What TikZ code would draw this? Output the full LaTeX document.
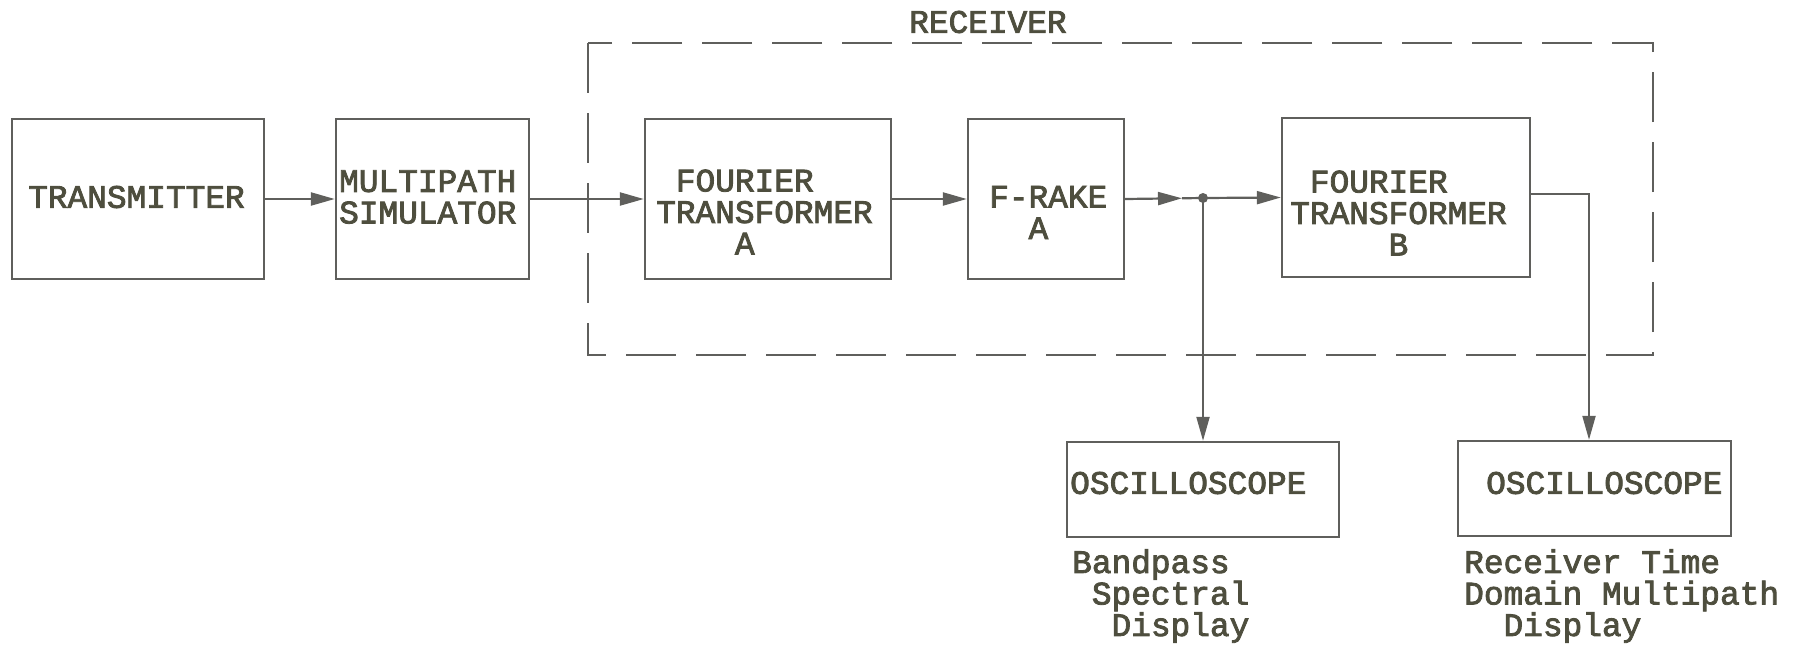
\documentclass[tikz,border=0pt]{standalone}
\usepackage{fontspec}
\newfontfamily\tw[FakeBold=2.5]{Liberation Mono}
\usetikzlibrary{arrows.meta}
\definecolor{ln}{RGB}{95,95,92}
\definecolor{tx}{RGB}{78,78,62}
\begin{document}
\begin{tikzpicture}[x=1pt,y=-1pt,
  blk/.style={draw=ln, line width=2.4pt, rectangle, inner sep=0pt},
  lbl/.style={text=tx, font=\tw\fontsize{32.8}{31.5}\selectfont, inner sep=0pt, align=left, anchor=west},
  conn/.style={draw=ln, line width=2.2pt},
  arr/.style={conn, -{Triangle[length=24pt,width=13pt]}},
  frame/.style={draw=ln, line width=2.4pt, dash pattern=on 50pt off 20pt}
]
\useasboundingbox (0,0) rectangle (1804,648);

% frame of the receiver
\draw[frame] (588,43) rectangle (1653,355);
\node[lbl] (trc) at (909,22) {RECEIVER};

% boxes
\node[blk, minimum width=252pt, minimum height=160pt] (tx) at (138,199) {};
\node[blk, minimum width=193pt, minimum height=160pt] (ms) at (432.5,199) {};
\node[blk, minimum width=246pt, minimum height=160pt] (fa) at (768,199) {};
\node[blk, minimum width=156pt, minimum height=160pt] (fr) at (1046,199) {};
\node[blk, minimum width=248pt, minimum height=159pt] (fb) at (1406,197.5) {};
\node[blk, minimum width=272pt, minimum height=95pt] (osc1) at (1203,489.5) {};
\node[blk, minimum width=273pt, minimum height=95pt] (osc2) at (1594.5,488.5) {};

% texts
\node[lbl] (ttx) at (28,197) {TRANSMITTER};
\node[lbl] (tms) at (339,197) {MULTIPATH\\SIMULATOR};
\node[lbl] (tfa) at (656,212) {\hphantom{X}FOURIER\\TRANSFORMER\\\hphantom{XXXX}A};
\node[lbl] (tfr) at (989,212.5) {F-RAKE\\\hphantom{XX}A};
\node[lbl] (tfb) at (1290,213) {\hphantom{X}FOURIER\\TRANSFORMER\\\hphantom{XXXXX}B};
\node[lbl] (to1) at (1070,483) {OSCILLOSCOPE};
\node[lbl] (to2) at (1486,483) {OSCILLOSCOPE};
\node[lbl] (tbp) at (1072,596) {Bandpass\\\hphantom{X}Spectral\\\hphantom{XX}Display};
\node[lbl] (trt) at (1464,596) {Receiver Time\\Domain Multipath\\\hphantom{XX}Display};

% connectors
\draw[arr] (tx.east) -- (ms.west);
\draw[arr] (ms.east) -- (fa.west);
\draw[arr] (fa.east) -- (fr.west);
\coordinate (j) at (1203,198);
\path (fr.east) -- (j) coordinate[pos=0.73] (jm);
\draw[arr] (fr.east) -- (jm);
\draw[conn] (jm) -- (j);
\draw[arr] (j) -- (fb.west);
\fill[ln] (j) circle (5pt);
\draw[arr] (j) -- (j |- osc1.north);
\coordinate (c2) at (1589,194);
\draw[arr] (fb.east |- c2) -- (c2) -- (c2 |- osc2.north);
\end{tikzpicture}
\end{document}
